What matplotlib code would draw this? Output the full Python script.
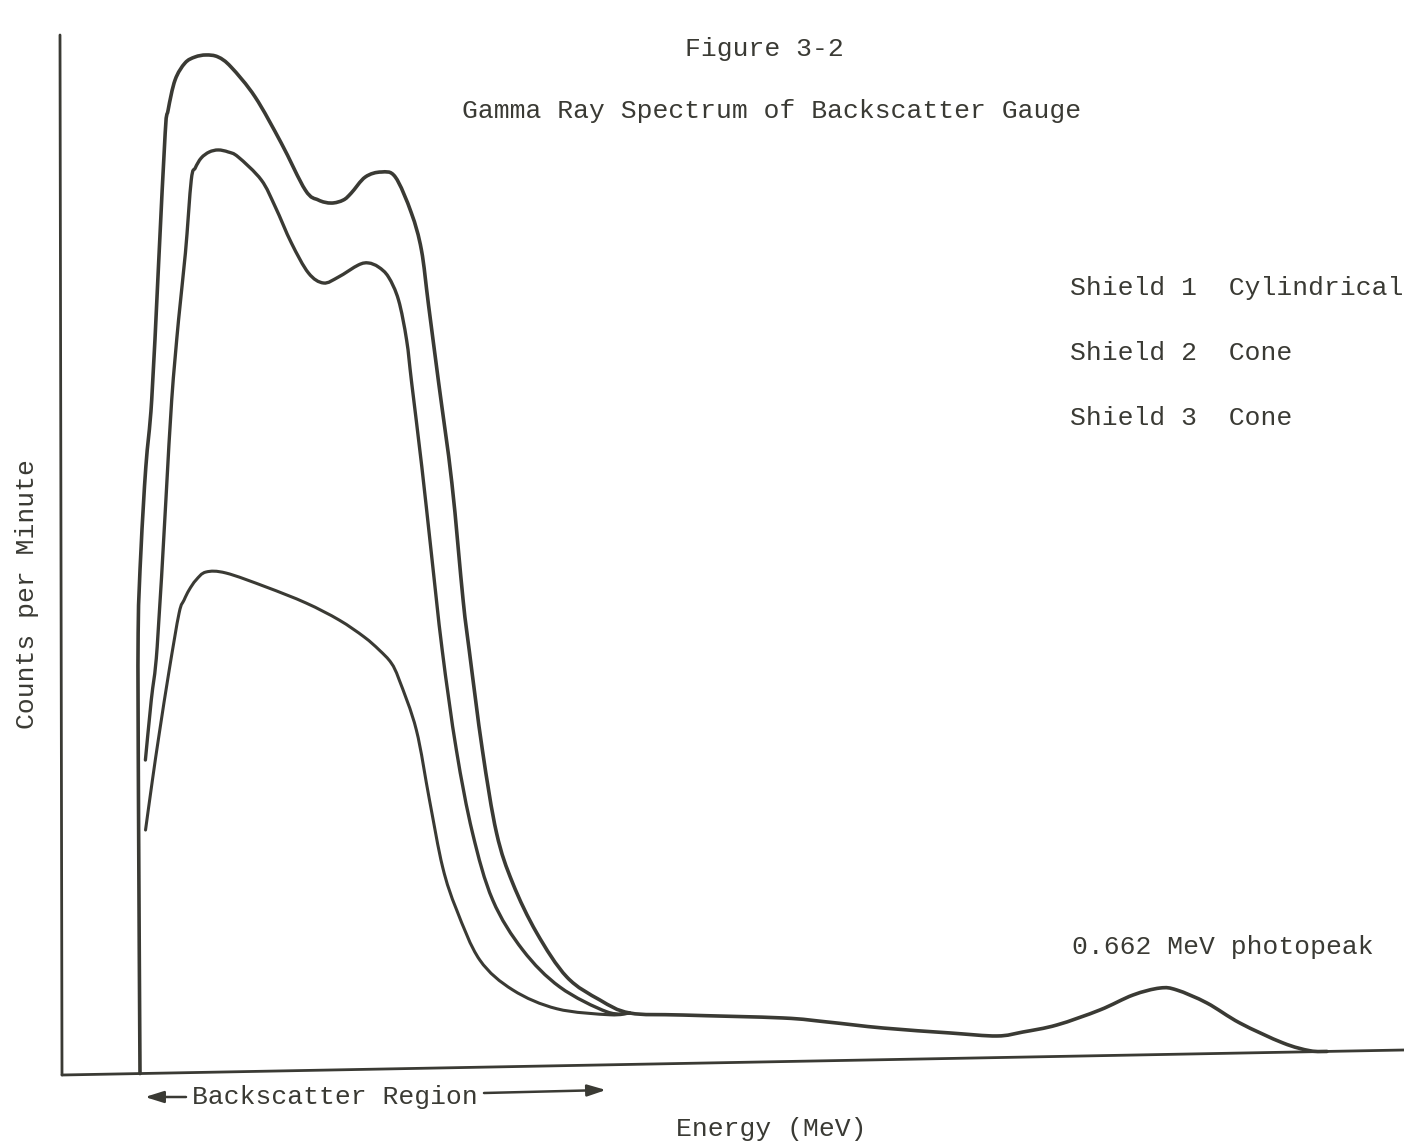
import numpy as np
import matplotlib.pyplot as plt
from matplotlib.transforms import Affine2D
from matplotlib.path import Path
from matplotlib.patches import PathPatch

# energy in MeV, counts per minute in arbitrary units
shield1_e = [0.0468, 0.0462, 0.0462, 0.048, 0.051, 0.0546, 0.0588, 0.063, 0.0648, 0.069,
             0.075, 0.081, 0.0876, 0.0948, 0.1026, 0.117, 0.1326, 0.147, 0.1548, 0.1626,
             0.1698, 0.1746, 0.183, 0.1926, 0.201, 0.2106, 0.2166, 0.2208, 0.2268, 0.2346,
             0.2412, 0.2448, 0.2526, 0.261, 0.2706, 0.285, 0.303, 0.3228, 0.3408]
shield1_c = [0.0, 2.736, 4.406, 5.235, 6.064, 6.733, 8.062, 9.400, 9.630, 9.929,
             10.097, 10.155, 10.173, 10.151, 10.048, 9.744, 9.279, 8.804, 8.702, 8.669,
             8.697, 8.766, 8.923, 8.970, 8.918, 8.555, 8.183, 7.631, 6.850, 5.847,
             4.675, 4.174, 3.172, 2.339, 1.836, 1.332, 0.886, 0.650, 0.514]

shield2_e = [0.0504, 0.054, 0.0576, 0.063, 0.0666, 0.0708, 0.075, 0.0786, 0.081, 0.0846,
             0.0894, 0.0948, 0.1008, 0.1068, 0.1206, 0.129, 0.1386, 0.1488, 0.1578, 0.1668,
             0.1788, 0.1848, 0.1908, 0.1968, 0.2028, 0.2076, 0.2106, 0.2166, 0.222, 0.2286,
             0.237, 0.2466, 0.2586, 0.2766, 0.2988, 0.327, 0.3408]
shield2_c = [3.134, 3.733, 4.262, 5.730, 6.729, 7.528, 8.197, 8.926, 9.045, 9.144,
             9.202, 9.221, 9.199, 9.147, 8.913, 8.640, 8.277, 7.974, 7.871, 7.928,
             8.045, 8.063, 8.021, 7.919, 7.687, 7.286, 6.855, 6.013, 5.181, 4.179,
             3.176, 2.343, 1.670, 1.164, 0.787, 0.530, 0.514]

shield3_e = [0.0504, 0.0546, 0.0588, 0.0648, 0.0708, 0.0738, 0.0768, 0.081, 0.087, 0.099,
             0.123, 0.147, 0.1668, 0.1818, 0.1908, 0.198, 0.2028, 0.213, 0.2208, 0.2286,
             0.237, 0.2508, 0.2706, 0.297, 0.3288, 0.3408]
shield3_c = [2.434, 2.933, 3.402, 4.030, 4.598, 4.727, 4.826, 4.925, 5.003, 4.989,
             4.842, 4.674, 4.498, 4.324, 4.191, 4.059, 3.887, 3.384, 2.681, 2.009,
             1.576, 1.072, 0.766, 0.570, 0.500, 0.514]

# common tail with the 0.662 MeV photopeak
tail_e = [0.3408, 0.3726, 0.4326, 0.459, 0.4926, 0.5328, 0.561, 0.5766, 0.597, 0.6228,
          0.6426, 0.6588, 0.669, 0.687, 0.7068, 0.7326, 0.7488, 0.759]
tail_c = [0.514, 0.484, 0.436, 0.388, 0.317, 0.255, 0.216, 0.251, 0.315, 0.457,
          0.600, 0.665, 0.642, 0.507, 0.300, 0.093, 0.010, 0.0]

legend_lines = ["Shield 1  Cylindrical", "Shield 2  Cone", "Shield 3  Cone"]

ink = "#3a3a34"
font = "Liberation Mono"
fs = 19

W, H = 1404, 1142
fig = plt.figure(figsize=(W / 100, H / 100), dpi=100)
ax = fig.add_axes([0, 0, 1, 1])
ax.set_xlim(-0.0372, 0.8052)
ax.set_ylim(-0.67, 10.75)
ax.axis("off")

# the scanned page is a little skewed
ox, oy = ax.transData.transform((0, 0))
skew = Affine2D().translate(-ox, -oy).skew(np.arctan(-0.00193), np.arctan(0.01863)).translate(ox, oy)
tr = ax.transData + skew


def smooth_path(xs, ys):
    # pen-drawn look: bezier segments through the read points (catmull-rom handles)
    p = np.column_stack([xs, ys]).astype(float)
    p = np.vstack([p[0], p, p[-1]])
    verts = [p[1]]
    codes = [Path.MOVETO]
    for i in range(1, len(p) - 2):
        c1 = p[i] + (p[i + 1] - p[i - 1]) / 6
        c2 = p[i + 1] - (p[i + 2] - p[i]) / 6
        verts += [c1, c2, p[i + 1]]
        codes += [Path.CURVE4] * 3
    return Path(verts, codes)


def draw(xs, ys, lw):
    ax.add_patch(PathPatch(smooth_path(xs, ys), fill=False, edgecolor=ink, lw=lw,
                           capstyle="round", joinstyle="round", transform=tr))


draw(shield1_e + tail_e[1:], shield1_c + tail_c[1:], 2.6)
draw(shield2_e, shield2_c, 2.4)
draw(shield3_e, shield3_c, 2.2)

# axes lines
kw = dict(color=ink, solid_capstyle="round", transform=tr)
ax.plot([0, 0], [0, 10.4], lw=2.0, **kw)
ax.plot([0, 0.81], [0, 0], lw=2.0, **kw)


def put(x, y, s, **extra):
    fig.text(x / W, 1 - y / H, s, fontsize=fs, family=font, color=ink, **extra)


put(764, 56, "Figure 3-2", ha="center", va="baseline")
put(772, 118, "Gamma Ray Spectrum of Backscatter Gauge", ha="center", va="baseline")
for i, s in enumerate(legend_lines):
    put(1070, 295 + 65 * i, s, ha="left", va="baseline")
put(1072, 954, "0.662 MeV photopeak", ha="left", va="baseline")
put(192, 1104, "Backscatter Region", ha="left", va="baseline")
put(771, 1136, "Energy (MeV)", ha="center", va="baseline")
put(27, 594, "Counts per Minute", ha="center", va="center", rotation=90)

arrow = dict(arrowstyle="-|>,head_length=0.7,head_width=0.22", color=ink, lw=1.8,
             shrinkA=0, shrinkB=0, mutation_scale=16)
ax.annotate("", xy=(145 / W, 1 - 1097 / H), xytext=(186 / W, 1 - 1097 / H),
            xycoords="figure fraction", textcoords="figure fraction", arrowprops=arrow)
ax.annotate("", xy=(606 / W, 1 - 1090 / H), xytext=(484 / W, 1 - 1093 / H),
            xycoords="figure fraction", textcoords="figure fraction", arrowprops=arrow)

fig.savefig("out.png", dpi=100)
